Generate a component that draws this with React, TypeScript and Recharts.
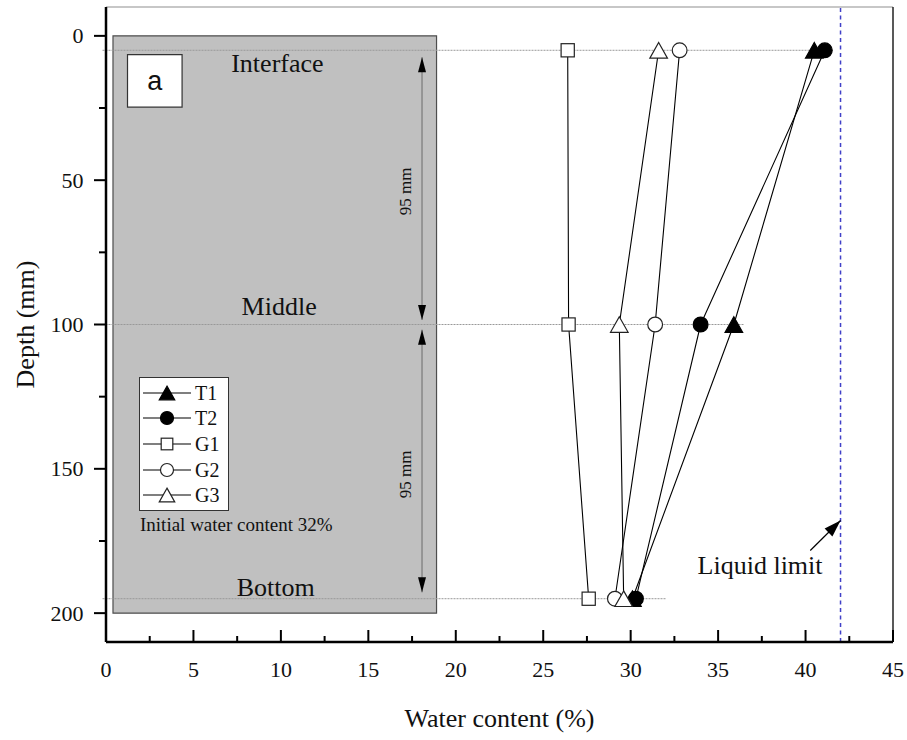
import React from 'react'
import {
  Label,
  Legend,
  ReferenceArea,
  ReferenceLine,
  Scatter,
  ScatterChart,
  XAxis,
  YAxis,
} from 'recharts'

const depth = [5, 100, 195]
const waterT1 = [40.5, 35.9, 30.1]
const waterT2 = [41.1, 34.0, 30.3]
const waterG1 = [26.4, 26.45, 27.6]
const waterG2 = [32.8, 31.4, 29.1]
const waterG3 = [31.6, 29.35, 29.6]

const xTicks = [0, 2.5, 5, 7.5, 10, 12.5, 15, 17.5, 20, 22.5, 25, 27.5, 30, 32.5, 35, 37.5, 40, 42.5, 45]
const yTicks = [0, 25, 50, 75, 100, 125, 150, 175, 200]

const liquidLimit = 42
const guideEnds = [41.3, 36.5, 32]
const positionNames = ['Interface', 'Middle', 'Bottom']
const positionNameX = [9.8, 9.9, 9.7]
const positionNameY = [12.5, 96.6, 193.9]

// "95 mm" dimension arrows
const spanX = 18.07
const spanStart = [7.4, 101.8]
const spanEnd = [98.4, 192.8]
const spanLabelX = 17.1
const spanLabelY = [53.9, 151.9]

// liquid limit pointer
const pointerFrom = { x: 40.27, y: 178.3 }
const pointerTo = { x: liquidLimit, y: 167.9 }
const pointerLabel = { x: 37.4, y: 186.3, text: 'Liquid limit' }

const serif = '"Liberation Serif", "Times New Roman", serif'

type Kind = 'triangle' | 'circle' | 'square'

const series: { name: string; values: number[]; kind: Kind; filled: boolean }[] = [
  { name: 'T1', values: waterT1, kind: 'triangle', filled: true },
  { name: 'T2', values: waterT2, kind: 'circle', filled: true },
  { name: 'G1', values: waterG1, kind: 'square', filled: false },
  { name: 'G2', values: waterG2, kind: 'circle', filled: false },
  { name: 'G3', values: waterG3, kind: 'triangle', filled: false },
]

const toPoints = (values: number[]) => values.map((x, i) => ({ x, y: depth[i] }))

const Marker = ({ cx, cy, kind, filled, size = 1 }: any) => {
  const fill = filled ? '#000' : '#fff'
  const stroke = filled ? '#000' : '#222'
  if (kind === 'square') {
    const h = 6.6 * size
    return <rect x={cx - h} y={cy - h} width={2 * h} height={2 * h} fill={fill} stroke={stroke} strokeWidth={1.2} />
  }
  if (kind === 'circle') {
    return <circle cx={cx} cy={cy} r={7.4 * size} fill={fill} stroke={stroke} strokeWidth={1.2} />
  }
  const w = 8.8 * size
  const h = 7.8 * size
  return (
    <polygon
      points={`${cx},${cy - h} ${cx + w},${cy + h} ${cx - w},${cy + h}`}
      fill={fill}
      stroke={stroke}
      strokeWidth={1.2}
      strokeLinejoin="miter"
    />
  )
}

const arrowHeads = [
  { x: spanX, y: spanStart[0], angle: -90, len: 15, half: 4 },
  { x: spanX, y: spanEnd[0], angle: 90, len: 15, half: 4 },
  { x: spanX, y: spanStart[1], angle: -90, len: 15, half: 4 },
  { x: spanX, y: spanEnd[1], angle: 90, len: 15, half: 4 },
  { x: pointerTo.x, y: pointerTo.y, angle: -45, len: 17, half: 5.5 },
]

const ArrowHead = ({ cx, cy, payload }: any) => (
  <polygon
    points={`0,0 ${-payload.len},${-payload.half} ${-payload.len},${payload.half}`}
    transform={`translate(${cx},${cy}) rotate(${payload.angle})`}
    fill="#000"
  />
)

const positionPoints = positionNames.map((text, i) => ({ x: positionNameX[i], y: positionNameY[i], text }))
const spanLabelPoints = spanLabelY.map((y) => ({ x: spanLabelX, y, text: '95 mm' }))

const XTick = ({ x, y, payload }: any) => {
  const major = payload.value % 5 === 0
  return (
    <g>
      <line x1={x} x2={x} y1={y} y2={y - (major ? 12 : 6)} stroke="#000" strokeWidth={2} />
      {major && (
        <text x={x} y={y + 35} textAnchor="middle" fontFamily={serif} fontSize={22} fill="#111">
          {payload.value}
        </text>
      )}
    </g>
  )
}

const YTick = ({ x, y, payload }: any) => {
  const major = payload.value % 50 === 0
  return (
    <g>
      <line x1={x} x2={x - (major ? 12 : 7)} y1={y} y2={y} stroke="#000" strokeWidth={2} />
      {major && (
        <text x={x - 22.5} y={y + 7.5} textAnchor="end" fontFamily={serif} fontSize={22} fill="#111">
          {payload.value}
        </text>
      )}
    </g>
  )
}

const LegendBox = () => (
  <div style={{ fontFamily: serif, color: '#111' }}>
    <div
      style={{
        width: 88,
        height: 128,
        padding: '2px 0',
        border: '1px solid #333',
        background: '#fff',
      }}
    >
      {series.map((s) => (
        <div key={s.name} style={{ display: 'flex', alignItems: 'center', height: 25.6 }}>
          <svg width={55} height={20} style={{ display: 'block' }}>
            <line x1={3} x2={51} y1={10} y2={10} stroke="#000" strokeWidth={1.1} />
            <Marker cx={27} cy={10} kind={s.kind} filled={s.filled} size={0.88} />
          </svg>
          <span style={{ fontSize: 20, lineHeight: 1 }}>{s.name}</span>
        </div>
      ))}
    </div>
    <div style={{ fontSize: 19, marginTop: 3, marginLeft: 1, whiteSpace: 'nowrap' }}>
      Initial water content 32%
    </div>
  </div>
)

export default function App() {
  return (
    <div style={{ position: 'absolute', left: 0, top: 0 }}>
      <ScatterChart width={907} height={740} margin={{ top: 7, right: 14, bottom: 0, left: 0 }}>
        <XAxis
          type="number"
          dataKey="x"
          domain={[0, 45]}
          ticks={xTicks}
          interval={0}
          height={98}
          tickSize={0}
          tickMargin={0}
          tickLine={false}
          tick={<XTick />}
          axisLine={{ stroke: '#000', strokeWidth: 2.5 }}
        >
          <Label
            content={({ viewBox }: any) => (
              <text
                x={viewBox.x + viewBox.width / 2}
                y={viewBox.y + 85}
                textAnchor="middle"
                fontFamily={serif}
                fontSize={26}
                fill="#111"
              >
                Water content (%)
              </text>
            )}
          />
        </XAxis>
        <YAxis
          type="number"
          dataKey="y"
          domain={[-10, 210]}
          reversed
          ticks={yTicks}
          interval={0}
          width={106}
          tickSize={0}
          tickMargin={0}
          tickLine={false}
          tick={<YTick />}
          axisLine={{ stroke: '#000', strokeWidth: 2.5 }}
        >
          <Label
            content={({ viewBox }: any) => {
              const cx = viewBox.x + 25
              const cy = viewBox.y + viewBox.height / 2
              return (
                <text
                  x={cx}
                  y={cy}
                  transform={`rotate(-90, ${cx}, ${cy})`}
                  textAnchor="middle"
                  dominantBaseline="central"
                  fontFamily={serif}
                  fontSize={26}
                  fill="#111"
                >
                  Depth (mm)
                </text>
              )
            }}
          />
        </YAxis>

        <ReferenceLine y={-10} stroke="#b5b5b5" strokeWidth={1.5} ifOverflow="visible" />
        <ReferenceLine x={45} stroke="#222" strokeWidth={1.5} ifOverflow="visible" />

        <ReferenceArea x1={0.4} x2={18.9} y1={0} y2={200} fill="#c0c0c0" fillOpacity={1} stroke="#4d4d4d" strokeWidth={1.2} ifOverflow="visible" />
        <ReferenceArea
          x1={1.23}
          x2={4.35}
          y1={6.5}
          y2={24.7}
          fill="#fff"
          fillOpacity={1}
          stroke="#333"
          strokeWidth={1.2}
          label={{ value: 'a', position: 'center', fontFamily: '"Liberation Sans", Arial, sans-serif', fontSize: 27, fill: '#111' }}
        />

        {depth.map((d, i) => (
          <ReferenceLine
            key={d}
            segment={[{ x: -0.2, y: d }, { x: guideEnds[i], y: d }]}
            stroke="#999"
            strokeWidth={1}
            strokeDasharray="2 1"
            ifOverflow="visible"
          />
        ))}

        <ReferenceLine x={liquidLimit} stroke="#4040c8" strokeWidth={1.5} strokeDasharray="4 3.5" />

        {spanStart.map((s, i) => (
          <ReferenceLine
            key={s}
            segment={[{ x: spanX, y: s }, { x: spanX, y: spanEnd[i] }]}
            stroke="#6a6a6a"
            strokeWidth={1}
          />
        ))}
        <ReferenceLine segment={[pointerFrom, pointerTo]} stroke="#000" strokeWidth={1.2} />

        <Scatter data={arrowHeads} shape={<ArrowHead />} isAnimationActive={false} legendType="none" />

        <Scatter
          data={positionPoints}
          isAnimationActive={false}
          legendType="none"
          shape={(p: any) => (
            <text x={p.cx} y={p.cy} textAnchor="middle" fontFamily={serif} fontSize={26} fill="#111">
              {p.payload.text}
            </text>
          )}
        />
        <Scatter
          data={spanLabelPoints}
          isAnimationActive={false}
          legendType="none"
          shape={(p: any) => (
            <text
              x={p.cx}
              y={p.cy}
              transform={`rotate(-90, ${p.cx}, ${p.cy})`}
              textAnchor="middle"
              dominantBaseline="central"
              fontFamily={serif}
              fontSize={17}
              fill="#111"
            >
              {p.payload.text}
            </text>
          )}
        />
        <Scatter
          data={[pointerLabel]}
          isAnimationActive={false}
          legendType="none"
          shape={(p: any) => (
            <text x={p.cx} y={p.cy} textAnchor="middle" fontFamily={serif} fontSize={26} fill="#111">
              {p.payload.text}
            </text>
          )}
        />

        {series.map((s) => (
          <Scatter
            key={s.name}
            name={s.name}
            data={toPoints(s.values)}
            line={{ stroke: '#000', strokeWidth: 1.1 }}
            lineType="joint"
            isAnimationActive={false}
            shape={(p: any) => <Marker cx={p.cx} cy={p.cy} kind={s.kind} filled={s.filled} />}
          />
        ))}

        <Legend
          layout="horizontal"
          verticalAlign="middle"
          align="center"
          wrapperStyle={{ position: 'absolute', left: 139, top: 377, width: 'auto', height: 'auto' }}
          content={<LegendBox />}
        />
      </ScatterChart>
    </div>
  )
}
